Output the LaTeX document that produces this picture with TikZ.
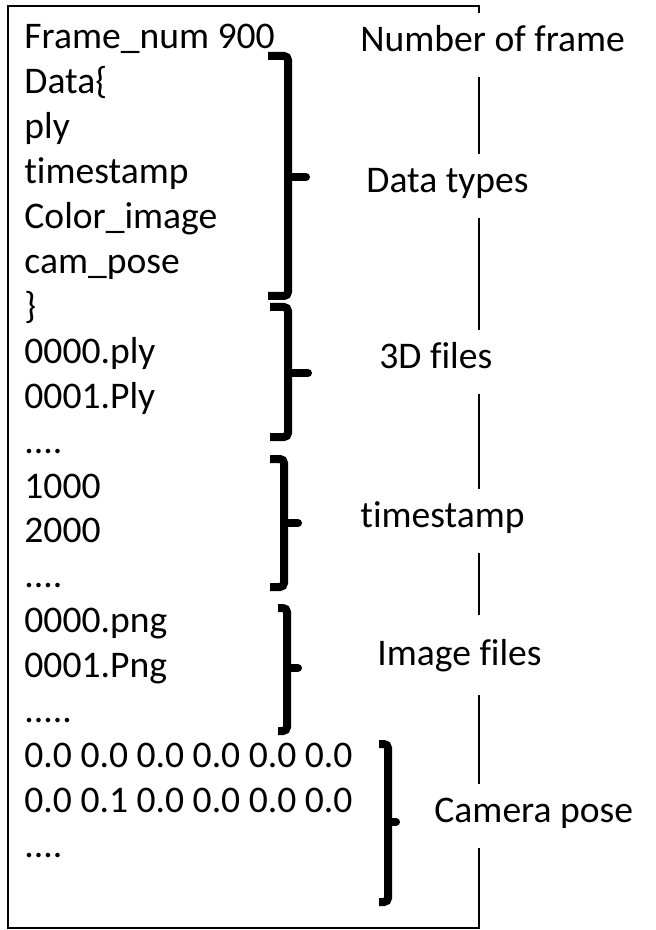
\documentclass[tikz,border=0pt]{standalone}
\usepackage{fontspec}
\setmainfont{Carlito}[Ligatures=NoCommon]

\begin{document}
\begin{tikzpicture}[x=0.5pt,y=-0.5pt,
  txt/.style={anchor=base west,inner sep=0pt,font=\fontsize{18.8}{22}\selectfont},
  lbl/.style={txt,fill=white,inner ysep=0pt,minimum height=32pt,
    text height=0.8em,text depth=0.15em},
  brc/.style={line width=4pt,rounded corners=2pt}]
  \useasboundingbox (0,0) rectangle (655,930);
  \draw[line width=0.75pt] (8,6) rectangle (479,928);
  % file contents
  \node[txt] (frame) at (24,49) {Frame\_num 900};
  \node[txt] (data) at (24,93.9) {Data\{};
  \node[txt] (ply) at (24,138.8) {ply};
  \node[txt] (stamp) at (24,183.7) {timestamp};
  \node[txt] (color) at (24,228.6) {Color\_image};
  \node[txt] (pose) at (24,273.5) {cam\_pose};
  \node[txt] (close) at (24,318.4) {\}};
  \node[txt] (plya) at (24,363.3) {0000.ply};
  \node[txt] (plyb) at (24,408.2) {0001.Ply};
  \node[txt] (plyc) at (24,453.1) {....};
  \node[txt] (stampa) at (24,498) {1000};
  \node[txt] (stampb) at (24,542.9) {2000};
  \node[txt] (stampc) at (24,587.8) {....};
  \node[txt] (pnga) at (24,632.7) {0000.png};
  \node[txt] (pngb) at (24,677.6) {0001.Png};
  \node[txt] (pngc) at (24,722.5) {.....};
  \node[txt] (posea) at (24,767.4) {0.0 0.0 0.0 0.0 0.0 0.0};
  \node[txt] (poseb) at (24,812.3) {0.0 0.1 0.0 0.0 0.0 0.0};
  \node[txt] (posec) at (24,857.2) {....};
  % braces
  \draw[brc] (268,56) -- (288,56) -- (288,296) -- (268,296);
  \draw[brc,line cap=round] (288,177) -- (306,177);
  \draw[brc] (270,307) -- (288,307) -- (288,437) -- (270,437);
  \draw[brc,line cap=round] (288,373) -- (308,373);
  \draw[brc] (270,459) -- (284,459) -- (284,587) -- (270,587);
  \draw[brc,line cap=round] (284,523) -- (298,523);
  \draw[brc] (278,608) -- (287,608) -- (287,731) -- (278,731);
  \draw[brc,line cap=round] (287,668) -- (298,668);
  \draw[brc] (379,744) -- (388,744) -- (388,902) -- (379,902);
  \draw[brc,line cap=round] (388,822) -- (396,822);
  % labels
  \node[lbl] (nframe) at (360,52) {Number of frame};
  \node[lbl] (types) at (366,193) {Data types};
  \node[lbl] (files) at (379,368) {3D files};
  \node[lbl] (tstamp) at (360,527) {timestamp};
  \node[lbl,text height=1.2em,minimum height=40pt] (images) at (377,665) {Image files};
  \node[lbl] (camera) at (434,822) {Camera pose};
\end{tikzpicture}
\end{document}
